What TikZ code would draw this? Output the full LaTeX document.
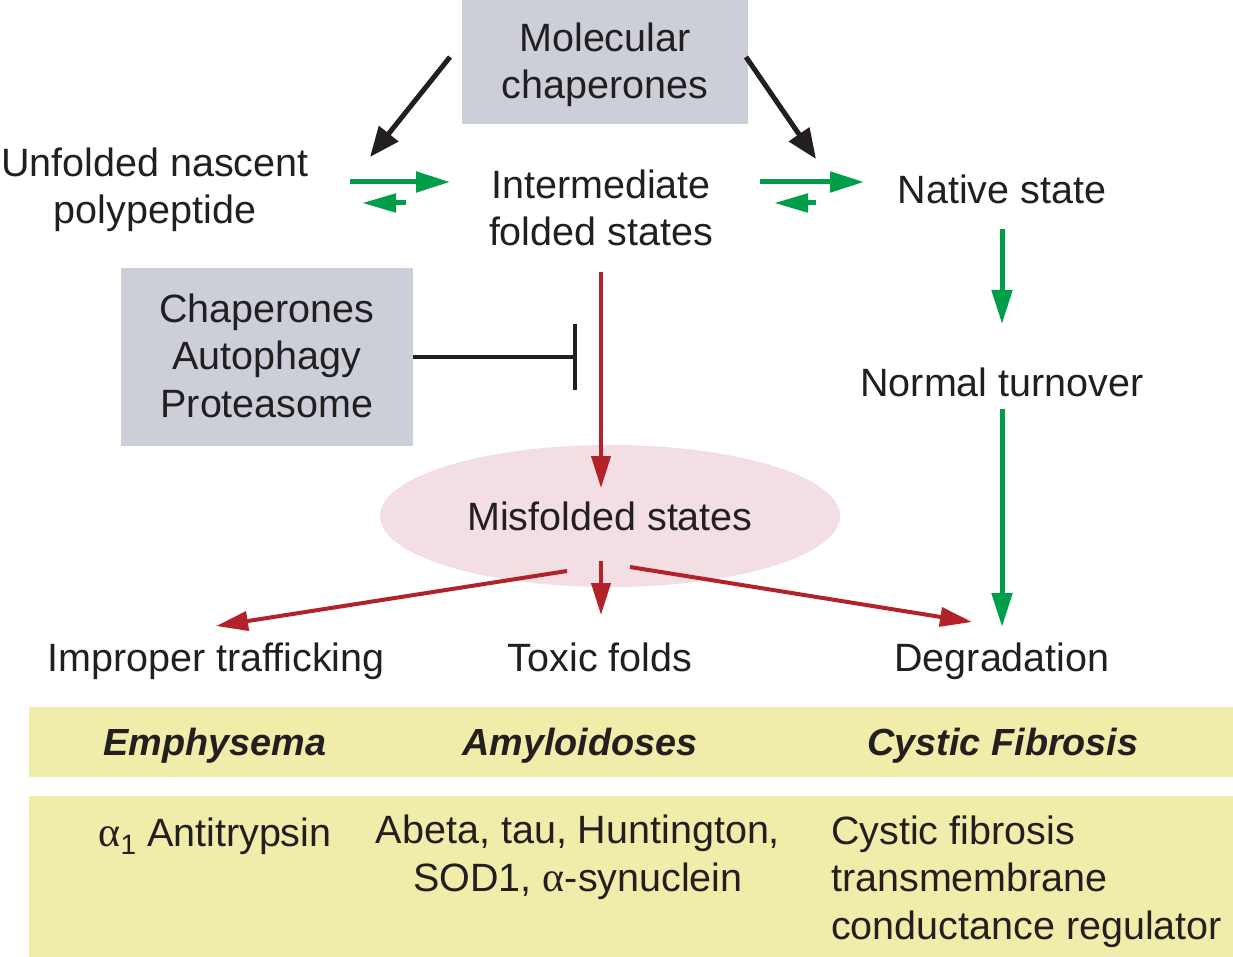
\documentclass[tikz,border=0pt]{standalone}
\usepackage{fontspec}
\setmainfont{Liberation Sans}
\newfontfamily\grk{Liberation Serif}
\usetikzlibrary{arrows.meta}
\definecolor{boxgray}{RGB}{204,206,216}
\definecolor{mygreen}{RGB}{0,158,73}
\definecolor{myred}{RGB}{178,34,40}
\definecolor{mypink}{RGB}{242,222,227}
\definecolor{myyellow}{RGB}{240,237,170}
\definecolor{mytext}{RGB}{35,31,32}
\newcommand{\alp}{{\grk\fontsize{42}{48}\selectfont α}}
\tikzset{
  lbl/.style={text=mytext, font=\fontsize{39.5}{47.5}\selectfont, align=center, inner sep=0pt, anchor=base},
  hdr/.style={lbl, font=\fontsize{37.8}{47.5}\selectfont\bfseries\itshape},
  blackarr/.style={draw=mytext, line width=5pt, -{Triangle[length=30pt,width=24pt]}},
  greenarr/.style={draw=mygreen, line width=5pt, -{Triangle[length=34pt,width=20pt]}},
  greenback/.style={draw=mygreen, line width=5pt, -{Triangle[length=34pt,width=18pt]}},
  redarr/.style={draw=myred, line width=4pt, -{Triangle[length=32pt,width=19pt]}},
}
\begin{document}
\begin{tikzpicture}[x=1pt,y=-1pt]
\useasboundingbox (0,0) rectangle (1233,957);
% boxes
\fill[boxgray] (462,0) rectangle (748,124);
\fill[boxgray] (121,268) rectangle (413,446);
\fill[mypink] (610,516) ellipse [x radius=230, y radius=71];
\fill[myyellow] (29,707) rectangle (1233,777);
\fill[myyellow] (29,796) rectangle (1233,957);
% nodes (multi-line nodes: base = last line)
\node[lbl] (mc) at (605,99) {Molecular\\chaperones};
\node[lbl] (unf) at (155,224) {Unfolded nascent\\polypeptide};
\node[lbl] (inter) at (601,246) {Intermediate\\folded states};
\node[lbl] (nat) at (1002,204) {Native state};
\node[lbl] (cap) at (267,417) {Chaperones\\Autophagy\\Proteasome};
\node[lbl] (mis) at (610,530) {Misfolded states};
\node[lbl] (turn) at (1002,396) {Normal turnover};
\node[lbl] (imp) at (216,671) {Improper trafficking};
\node[lbl] (tox) at (600,671) {Toxic folds};
\node[lbl] (deg) at (1002,671) {Degradation};
\node[hdr] (h1) at (215,755) {Emphysema};
\node[hdr] (h2) at (580,755) {Amyloidoses};
\node[hdr] (h3) at (1003,755) {Cystic Fibrosis};
\node[lbl] (d1) at (215,846) {\alp\raisebox{-8pt}{\fontsize{28}{30}\selectfont 1} Antitrypsin};
\node[lbl] (d2) at (578,891) {Abeta, tau, Huntington,\\SOD1, \alp-synuclein};
\node[lbl, anchor=base west, align=left] (d3) at (831,939) {Cystic fibrosis\\transmembrane\\conductance regulator};
% coordinates
\coordinate (a1s) at (450,57); \coordinate (a1e) at (370,157);
\coordinate (a2s) at (746,57); \coordinate (a2e) at (816,159);
\coordinate (g1s) at (350,182); \coordinate (g1e) at (450,182);
\coordinate (g2s) at (406,203); \coordinate (g2e) at (362,203);
\coordinate (g3s) at (760,182); \coordinate (g3e) at (864,182);
\coordinate (g4s) at (816,203); \coordinate (g4e) at (774,203);
\coordinate (inhs) at (413,357);
\coordinate (inh) at (575,357);
\coordinate (bart) at (575,324); \coordinate (barb) at (575,390);
% black
\draw[blackarr] (a1s) -- (a1e);
\draw[blackarr] (a2s) -- (a2e);
% green equilibrium
\draw[greenarr] (g1s) -- (g1e);
\draw[greenback] (g2s) -- (g2e);
\draw[greenarr] (g3s) -- (g3e);
\draw[greenback] (g4s) -- (g4e);
% inhibition
\draw[draw=mytext, line width=4pt] (inhs) -- (inh);
\draw[draw=mytext, line width=4pt] (bart) -- (barb);
% red
\draw[redarr] (601,272) -- (601,488);
\draw[redarr] (567,571) -- (216,626);
\draw[redarr] (601,561) -- (601,615);
\draw[redarr] (630,567) -- (972,622);
% green right column
\draw[greenarr] (1002,229) -- (1002,324);
\draw[greenarr] (1002,409) -- (1002,627);
\end{tikzpicture}
\end{document}
